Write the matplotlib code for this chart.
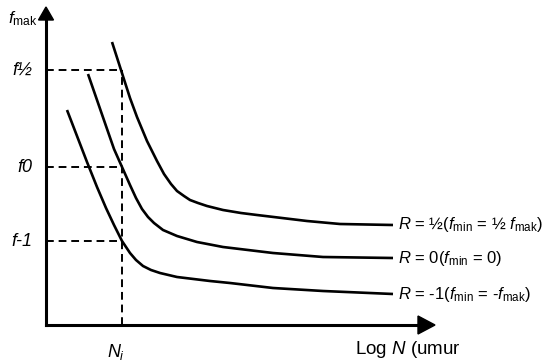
import numpy as np
import matplotlib
matplotlib.use('Agg')
import matplotlib.pyplot as plt

plt.rcParams['font.family'] = ['Liberation Sans', 'DejaVu Sans']
plt.rcParams['mathtext.fontset'] = 'custom'
plt.rcParams['mathtext.rm'] = 'Liberation Sans'
plt.rcParams['mathtext.it'] = 'Liberation Sans:italic'

# curves (x = log N, y = stress), origin at the axis corner
half_x = [66, 75, 84, 91, 101, 111, 118, 125, 131, 138, 144, 152, 161, 177, 195, 211, 236, 261, 294, 347]
half_y = [283, 255, 227, 208, 184, 164, 151, 141, 134, 129, 125, 122, 119, 115, 112, 110, 107, 104, 101, 100]
zero_x = [42, 51, 60, 68, 76, 84, 90, 96, 102, 108, 117, 131, 151, 177, 227, 277, 347]
zero_y = [251, 225, 199, 176, 158, 140, 127, 116, 108, 102, 95, 89, 83, 78, 72, 68, 67]
minus_x = [21, 31, 41, 51, 60, 68, 76, 84, 90, 97, 105, 114, 131, 164, 184, 227, 277, 347]
minus_y = [215, 189, 163, 138, 117, 100, 84, 72, 65, 59, 55, 52, 48, 44, 42, 37, 34, 31]

levels = [255, 158, 84]
level_labels = ['f½', 'f0', 'f-1']
n_i = 76
curve_labels = [r'$\it{R}$ = ½($\it{f}_{\rm min}$ = ½ $\it{f}_{\rm mak}$)',
                r'$\it{R}$ = 0($\it{f}_{\rm min}$ = 0)',
                r'$\it{R}$ = -1($\it{f}_{\rm min}$ = -$\it{f}_{\rm mak}$)']

fig = plt.figure(figsize=(5.49, 3.62), dpi=100)
ax = fig.add_axes([0, 0, 1, 1])
ax.set_xlim(-46, 503)
ax.set_ylim(-37, 325)
ax.axis('off')

# axes with arrows
ax.plot([0, 0], [0, 305], color='black', lw=2.2)
ax.plot([0, 372], [0, 0], color='black', lw=2.2)
ax.fill([-7.5, 7.5, 0], [305, 305, 318], color='black')
ax.fill([372, 372, 389], [-9, 9, 0], color='black')

# curves
for xs, ys in [(half_x, half_y), (zero_x, zero_y), (minus_x, minus_y)]:
    ax.plot(xs, ys, color='black', lw=1.9, solid_capstyle='butt', solid_joinstyle='round')

# dashed guides
for lv in levels:
    ax.plot([0, n_i], [lv, lv], color='black', lw=1.4, ls=(0, (4, 2.5)))
ax.plot([n_i, n_i], [0, levels[0]], color='black', lw=1.4, ls=(0, (4, 2.5)))

for lv, lab in zip(levels, level_labels):
    ax.text(-14, lv, lab, ha='right', va='center', fontsize=13, style='italic')

ax.text(-38, 306, r'$\it{f}_{\rm mak}$', ha='left', va='center', fontsize=12.5)
ax.text(n_i - 6, -27, r'$\it{N}_{\it{i}}$', ha='center', va='center', fontsize=13)
ax.text(309, -25, r'Log $\it{N}$ (umur', ha='left', va='center', fontsize=13.5)

for xs, ys, lab in zip([half_x, zero_x, minus_x], [half_y, zero_y, minus_y], curve_labels):
    ax.text(xs[-1] + 5, ys[-1], lab, ha='left', va='center', fontsize=12)

fig.savefig('out.png', dpi=100)
